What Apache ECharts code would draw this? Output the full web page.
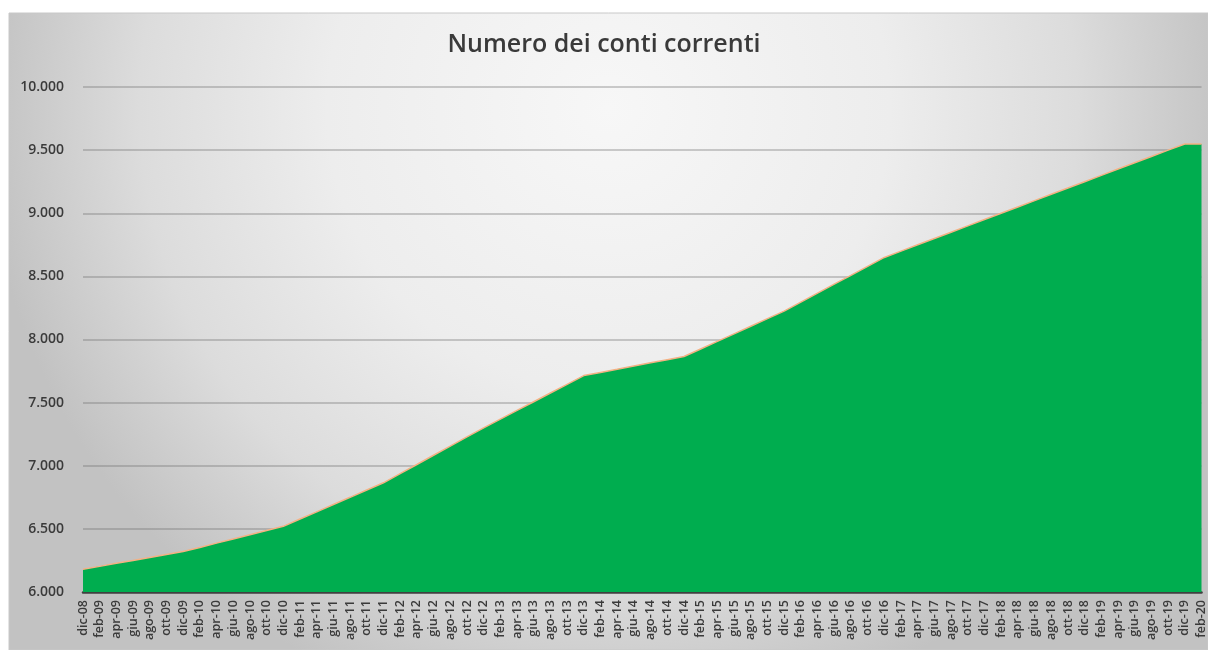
<!DOCTYPE html>
<html lang="it">
<head>
    <meta charset="utf-8">
    <script src="https://cdn.jsdelivr.net/npm/echarts@6/dist/echarts.min.js"></script>
    <title>Numero dei conti correnti</title>
    <style>
        html, body { margin: 0; height: 100%; background: #ffffff; }
        #container { width: 1208px; height: 650px; }
    </style>
</head>
<body>
<div id="container"></div>

<script type="text/javascript">
    // categorie bimestrali dic-08 ... feb-20
    const months = ['feb', 'apr', 'giu', 'ago', 'ott', 'dic'];
    const periods = ['dic-08'];
    for (let y = 9; y <= 19; y++) {
        for (const m of months) {
            periods.push(m + '-' + String(y).padStart(2, '0'));
        }
    }
    periods.push('feb-20');

    // valori
    const accounts = [
        6180,
        6203, 6227, 6250, 6273, 6297, 6320,   // 2009
        6353, 6387, 6420, 6453, 6487, 6520,   // 2010
        6578, 6635, 6693, 6750, 6808, 6865,   // 2011
        6938, 7010, 7083, 7155, 7228, 7300,   // 2012
        7369, 7438, 7507, 7576, 7645, 7714,   // 2013
        7739, 7764, 7790, 7815, 7840, 7865,   // 2014
        7925, 7985, 8045, 8105, 8165, 8225,   // 2015
        8296, 8367, 8438, 8508, 8579, 8650,   // 2016
        8700, 8750, 8800, 8850, 8900, 8950,   // 2017
        9000, 9050, 9100, 9150, 9200, 9250,   // 2018
        9300, 9350, 9400, 9450, 9500, 9548,   // 2019
        9548                                   // feb-20
    ];

    const yMin = 6000;
    const yMax = 10000;
    const yStep = 500;

    const dom = document.getElementById('container');
    const myChart = echarts.init(dom, null, {renderer: 'canvas'});

    const textColor = '#3a3a3a';
    const font = '"Open Sans", "Noto Sans", sans-serif';

    const option = {
        animation: false,
        backgroundColor: '#ffffff',
        graphic: [
            {
                type: 'rect',
                z: -10,
                silent: true,
                shape: {x: 9, y: 13, width: 1199, height: 637},
                style: {
                    fill: new echarts.graphic.RadialGradient(0.5, 0.15, 0.98, [
                        {offset: 0, color: '#f7f7f7'},
                        {offset: 0.45, color: '#ededed'},
                        {offset: 0.75, color: '#dcdcdc'},
                        {offset: 1, color: '#c2c2c2'}
                    ]),
                    stroke: '#c8c8c8',
                    lineWidth: 1
                }
            }
        ],
        title: {
            text: 'Numero dei conti correnti',
            left: 'center',
            top: 27,
            textStyle: {
                fontFamily: font,
                fontSize: 25,
                fontWeight: 600,
                color: textColor
            }
        },
        grid: {
            left: 83,
            right: 5,
            top: 87,
            bottom: 58,
            containLabel: false
        },
        xAxis: {
            type: 'category',
            data: periods,
            boundaryGap: false,
            axisLine: {lineStyle: {color: '#404040', width: 2.5}},
            axisTick: {show: false},
            axisLabel: {
                interval: 0,
                rotate: 90,
                margin: 8,
                fontFamily: font,
                fontSize: 12.5,
                fontWeight: 600,
                color: textColor
            },
            splitLine: {show: false}
        },
        yAxis: {
            type: 'value',
            min: yMin,
            max: yMax,
            interval: yStep,
            axisLine: {show: false},
            axisTick: {show: false},
            axisLabel: {
                margin: 19,
                fontFamily: font,
                fontSize: 14,
                fontWeight: 600,
                color: textColor,
                formatter: v => v.toLocaleString('de-DE')
            },
            splitLine: {lineStyle: {color: 'rgba(110,110,110,0.45)', width: 1.5}}
        },
        series: [
            {
                type: 'line',
                data: accounts,
                symbol: 'none',
                lineStyle: {color: '#f4b183', width: 1.5},
                areaStyle: {color: '#00ad4f', opacity: 1, origin: 'start'},
                z: 3
            }
        ]
    };

    myChart.setOption(option);

    window.onresize = function () {
        myChart.resize();
    };
</script>
</body>
</html>
